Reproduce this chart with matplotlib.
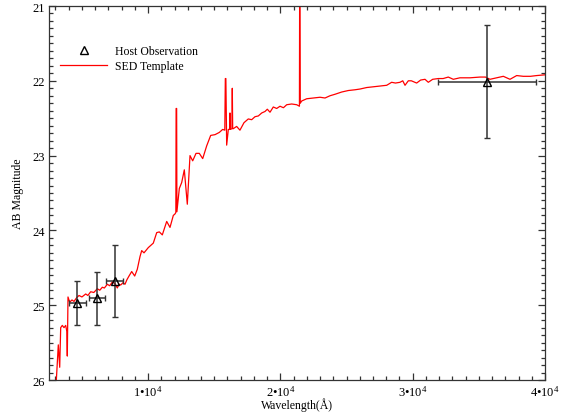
import matplotlib
matplotlib.use("Agg")
import matplotlib.pyplot as plt
from matplotlib.ticker import MultipleLocator, FixedLocator, FixedFormatter
from matplotlib.lines import Line2D

plt.rcParams['font.family'] = ['Liberation Serif', 'DejaVu Serif']
plt.rcParams['mathtext.fontset'] = 'custom'
plt.rcParams['mathtext.rm'] = 'Liberation Serif'
plt.rcParams['mathtext.it'] = 'Liberation Serif:italic'

# SED template spectrum (wavelength in Angstrom, AB magnitude)
sed_wave = [
    3000, 3065, 3140, 3216, 3322, 3397, 3518, 3647, 3775, 3860, 3896, 3949,
    4078, 4250, 4403, 4600, 4781, 5000, 5287, 5450, 5664, 5900, 6164, 6350,
    6542, 6700, 6920, 7100, 7298, 7500, 7675, 7800, 7932, 8100, 8257, 8400,
    8560, 8763, 8990, 9186, 9391, 9519, 9693, 10018, 10396, 10653, 10850,
    11077, 11409, 11658, 11908, 12036, 12100, 12120, 12160, 12180, 12362,
    12542, 12740, 12966, 13170, 13373, 13624, 13873, 14130, 14430, 14733,
    15059, 15386, 15638, 15800, 15840, 15880, 15941, 16066, 16170, 16190,
    16220, 16340, 16366, 16395, 16443, 16695, 16945, 17250, 17575, 17830,
    18083, 18333, 18590, 18840, 19013, 19217, 19465, 19720, 19973, 20230,
    20478, 20856, 21234, 21440, 21460, 21500, 21612, 21990, 22493, 22997,
    23375, 23750, 24130, 24635, 25135, 25640, 26020, 26525, 27025, 27530,
    28035, 28410, 28700, 29040, 29250, 29420, 29670, 29900, 30300, 30600,
    30930, 31180, 31510, 31940, 32300, 32690, 33070, 33570, 34330, 35090,
    35500, 35840, 36350, 36850, 37355, 37860, 38360, 38900, 39370, 40000,
]
sed_mag = [
    26.30, 26.01, 25.76, 25.53, 25.83, 25.30, 25.27, 25.30, 25.27, 25.35, 25.68, 24.89,
    24.96, 24.93, 24.95, 24.90, 24.87, 24.89, 24.85, 24.87, 24.82, 24.83, 24.78, 24.80,
    24.76, 24.77, 24.72, 24.74, 24.69, 24.71, 24.77, 24.72, 24.73, 24.70, 24.72, 24.66,
    24.61, 24.55, 24.61, 24.52, 24.35, 24.27, 24.30, 24.23, 24.17, 24.03, 24.02,
    24.06, 23.88, 23.96, 23.80, 23.78, 23.76, 22.37, 22.37, 23.75, 23.44,
    23.36, 23.19, 23.65, 23.00, 23.07, 22.97, 22.97, 23.04, 22.87, 22.73,
    22.72, 22.69, 22.65, 22.66, 21.97, 21.97, 22.86, 22.65, 22.65, 22.43,
    22.65, 22.64, 22.10, 22.64, 22.64, 22.61, 22.66, 22.56, 22.51, 22.52,
    22.48, 22.47, 22.43, 22.41, 22.38, 22.42, 22.35, 22.37, 22.34, 22.36,
    22.32, 22.31, 22.32, 22.34, 20.50, 22.30, 22.27, 22.24, 22.23, 22.22,
    22.23, 22.20, 22.18, 22.15, 22.13, 22.12, 22.11, 22.09, 22.08, 22.07,
    22.06, 22.02, 22.03, 22.02, 22.00, 22.06, 22.00, 22.00, 22.03, 21.99,
    21.98, 22.02, 21.98, 21.97, 21.97, 21.95, 21.98, 21.96, 21.96, 21.95,
    21.95, 21.98, 21.96, 21.94, 21.98, 21.93, 21.94, 21.94, 21.93, 21.92,
]

# Host galaxy photometry
obs_wave = [4650, 6140, 7470, 35610]
obs_wave_err = [650, 600, 650, 3730]
obs_mag = [24.97, 24.91, 24.68, 22.01]
obs_mag_err = [0.30, 0.36, 0.48, 0.75]

x_ticks = [10000, 20000, 30000, 40000]
x_tick_labels = ['1•10$^{4}$', '2•10$^{4}$', '3•10$^{4}$', '4•10$^{4}$']
y_ticks = [21, 22, 23, 24, 25, 26]

fig = plt.figure(figsize=(5.69, 4.14), dpi=100)
ax = fig.add_axes([49 / 569, 1 - 381 / 414, 496 / 569, 374 / 414])

ax.plot(sed_wave, sed_mag, color='#ff0000', lw=0.9, zorder=2)
ax.errorbar(obs_wave, obs_mag, xerr=obs_wave_err, yerr=obs_mag_err,
            fmt='^', ms=6, mfc='none', mec='black', mew=1.0,
            ecolor='#333333', elinewidth=1.1, capsize=2.5, capthick=1.1,
            zorder=3)

ax.set_xlim(2513, 40000)
ax.set_ylim(26, 21)

ax.xaxis.set_major_locator(FixedLocator(x_ticks))
ax.xaxis.set_major_formatter(FixedFormatter(x_tick_labels))
ax.xaxis.set_minor_locator(MultipleLocator(1000))
ax.yaxis.set_major_locator(FixedLocator(y_ticks))
ax.yaxis.set_minor_locator(MultipleLocator(0.1))

ax.tick_params(which='both', direction='in', top=True, right=True,
               color='#333333', width=0.9, labelsize=9)
ax.tick_params(which='major', length=5.2)
ax.tick_params(which='minor', length=2.6)
ax.tick_params(axis='x', pad=3)
ax.tick_params(axis='y', pad=3)
for sp in ax.spines.values():
    sp.set_color('#333333')
    sp.set_linewidth(0.9)

ax.set_xlabel('Wavelength(Å)', fontsize=8.5, labelpad=-1)
ax.set_ylabel('AB Magnitude', fontsize=8.5, labelpad=6)

handles = [
    Line2D([], [], ls='none', marker='^', ms=6, mfc='none', mec='black', mew=1.0),
    Line2D([], [], color='#ff0000', lw=0.9),
]
ax.legend(handles, ['Host Observation', 'SED Template'], loc='upper left',
          bbox_to_anchor=(0.022, 0.895), frameon=False, fontsize=8.5,
          handlelength=4.0, handletextpad=0.7, labelspacing=0.25,
          borderpad=0, borderaxespad=0)

fig.savefig('out.png', dpi=100)
